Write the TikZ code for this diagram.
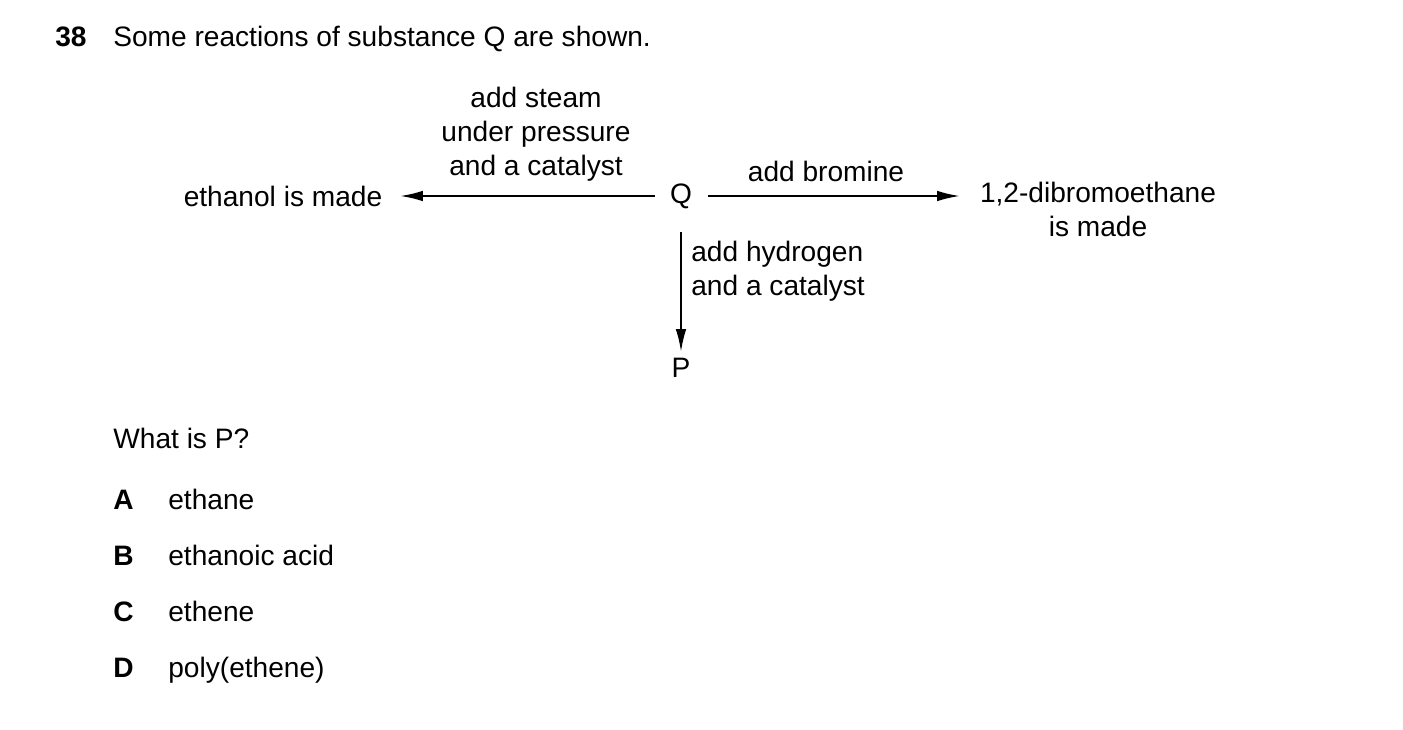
\documentclass[tikz,border=0pt]{standalone}
\usepackage{fontspec}
\setmainfont{Liberation Sans}
\usetikzlibrary{arrows.meta,positioning}

\tikzset{
  txt/.style={anchor=base west, inner sep=0pt, font=\fontsize{16}{19.3}\selectfont},
  lbl/.style={inner sep=0pt, align=center, font=\fontsize{16}{19.3}\selectfont},
  rxn/.style={line width=1.2pt, -{Latex[length=13pt,width=6pt]}}
}

\begin{document}
\begin{tikzpicture}[x=0.02cm,y=-0.02cm]
    \useasboundingbox (0,0) rectangle (1403,730);
    % Question text
    \node[txt, font=\fontsize{16}{19.3}\selectfont\bfseries] (num) at (55,46) {38};
    \node[txt] (stem) at (113,46) {Some reactions of substance Q are shown.};
    % Substances
    \node[lbl] (Q) at (681,196) {Q};
    \node[lbl] (eth) at (283,196) {ethanol is made};
    \node[lbl, anchor=north] (dbr) at (1098,182) {1,2-dibromoethane\\is made};
    \node[lbl] (P) at (681,368) {P};
    \coordinate (qL) at (655,196);
    \coordinate (eL) at (400,196);
    \coordinate (qR) at (708,196);
    \coordinate (dL) at (960,196);
    \coordinate (qD) at (681,232);
    \coordinate (pU) at (681,352);
    % Reactions
    \draw[rxn] (qL) -- (eL);
    \draw[rxn] (qR) -- (dL);
    \draw[rxn] (qD) -- (pU);
    \node[lbl, anchor=south] (steam) at (536,182) {add steam\\under pressure\\and a catalyst};
    \node[lbl, anchor=south] (brom) at (826,182) {add bromine};
    \node[lbl, anchor=north west, align=left] (hyd) at (691,241) {add hydrogen\\and a catalyst};
    % Options
    \node[txt] (ask) at (113,448) {What is P?};
    \foreach \l/\t/\y in {A/ethane/509, B/ethanoic acid/565, C/ethene/621, D/poly(ethene)/677} {
        \node[txt, font=\fontsize{16}{19.3}\selectfont\bfseries] (opt\l) at (113,\y) {\l};
        \node[txt] (ans\l) at (168,\y) {\t};
    }
\end{tikzpicture}
\end{document}
